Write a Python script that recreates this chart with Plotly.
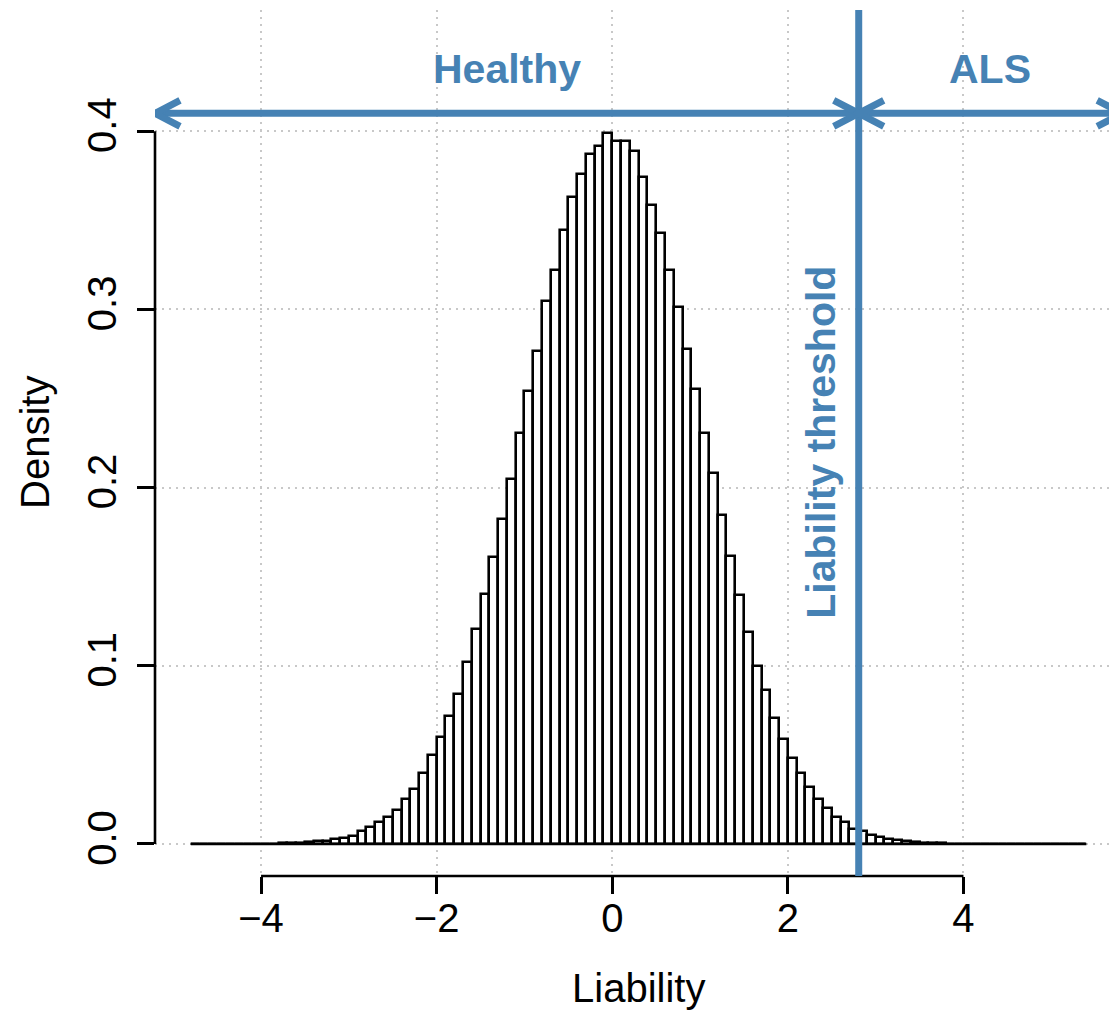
import numpy as np
import plotly.graph_objects as go

# ---- data ----
bin_start = -4.8
bin_width = 0.1
density = [
    0.00001, 0, 0, 0, 0, 0, 0, 0,                       # -4.8 .. -4.1
    0.0001, 0.0002, 0.0003, 0.0005, 0.0007, 0.0010, 0.0014, 0.0019, 0.0026, 0.0035,  # -4.0 .. -3.1
    0.0047, 0.0071, 0.0093, 0.0125, 0.0153, 0.0191, 0.0252, 0.0310, 0.0400, 0.0497,  # -3.0 .. -2.1
    0.0598, 0.0720, 0.0841, 0.1022, 0.1209, 0.1402, 0.1611, 0.1821, 0.2047, 0.2305,  # -2.0 .. -1.1
    0.2541, 0.2768, 0.3046, 0.3221, 0.3445, 0.3630, 0.3761, 0.3872, 0.3916, 0.3991,  # -1.0 .. -0.1
    0.3946, 0.3946, 0.3888, 0.3743, 0.3587, 0.3427, 0.3221, 0.3013, 0.2780, 0.2552,  # 0.0 .. 0.9
    0.2305, 0.2079, 0.1845, 0.1615, 0.1398, 0.1192, 0.0998, 0.0864, 0.0708, 0.0590,  # 1.0 .. 1.9
    0.0484, 0.0400, 0.0317, 0.0254, 0.0200, 0.0153, 0.0121, 0.0086, 0.0073, 0.0050,  # 2.0 .. 2.9
    0.0037, 0.0029, 0.0020, 0.0015, 0.0010, 0.0007, 0.0005, 0.0003, 0.0002, 0.0001,  # 3.0 .. 3.9
    0, 0, 0, 0, 0, 0, 0, 0, 0, 0, 0, 0, 0, 0.00001,     # 4.0 .. 5.3
]
x_ticks = [-4, -2, 0, 2, 4]
x_ticktext = ["\u22124", "\u22122", "0", "2", "4"]
y_ticks = [0.0, 0.1, 0.2, 0.3, 0.4]
y_ticktext = ["0.0", "0.1", "0.2", "0.3", "0.4"]
threshold = 2.807
arrow_y = 0.41
labels = {"healthy": "Healthy", "als": "ALS", "thr": "Liability threshold"}
x_title = "Liability"
y_title = "Density"

# ---- derived ----
n = len(density)
edges = np.round(bin_start + bin_width * np.arange(n + 1), 2)
centers = (edges[:-1] + edges[1:]) / 2
# R-style usr extents (4% padding)
xr = edges[-1] - edges[0]
x_lo, x_hi_r = edges[0] - 0.04 * xr, edges[-1] + 0.04 * xr
y_lo, y_hi = -0.018, 0.468

# page body has an 8px margin; compensate
W, H = 1109, 1003
ml, mr, mt, mb = 147, 0, 2, 135
pxu = 87.8
x_hi = x_lo + (W - ml - mr) / pxu

BLUE = "#4682B4"
FONT = "Liberation Sans, Arial, sans-serif"

fig = go.Figure()
fig.add_trace(go.Bar(
    x=centers, y=density, width=bin_width,
    marker=dict(color="white", line=dict(color="black", width=2.6)),
    hoverinfo="skip", showlegend=False,
))
fig.add_trace(go.Scatter(
    x=[edges[0], edges[-1]], y=[0, 0], mode="lines",
    line=dict(color="black", width=2.6), hoverinfo="skip", showlegend=False,
))

shapes = []
# axis lines (R style: from first to last tick)
shapes.append(dict(type="line", xref="x", yref="paper", x0=x_ticks[0], x1=x_ticks[-1],
                   y0=0, y1=0, line=dict(color="black", width=2.6)))
shapes.append(dict(type="line", xref="paper", yref="y", x0=0, x1=0,
                   y0=y_ticks[0], y1=y_ticks[-1], line=dict(color="black", width=2.6)))
# threshold line
shapes.append(dict(type="line", xref="x", yref="paper", x0=threshold, x1=threshold,
                   y0=0, y1=1, line=dict(color=BLUE, width=7), layer="above"))
# arrow shafts
shapes.append(dict(type="line", xref="x", yref="y", x0=x_lo, x1=threshold,
                   y0=arrow_y, y1=arrow_y, line=dict(color=BLUE, width=7)))
shapes.append(dict(type="line", xref="x", yref="y", x0=threshold, x1=x_hi_r,
                   y0=arrow_y, y1=arrow_y, line=dict(color=BLUE, width=7)))
# chevron heads (pixel-sized, anchored at tips)
def chevron(xtip, direction):
    d = 25 * direction
    return dict(type="path", xref="x", yref="y", xsizemode="pixel", ysizemode="pixel",
                xanchor=xtip, yanchor=arrow_y,
                path=f"M {d},13 L 0,0 L {d},-13",
                line=dict(color=BLUE, width=7))
shapes.append(chevron(x_lo, 1))
shapes.append(chevron(threshold, -1))
shapes.append(chevron(threshold, 1))
shapes.append(chevron(x_hi_r, -1))

annotations = [
    dict(x=(x_lo + threshold) / 2, y=0.435, xref="x", yref="y", text=labels["healthy"],
         showarrow=False, font=dict(family=FONT, size=41, color=BLUE, weight="bold")),
    dict(x=(threshold + x_hi_r) / 2, y=0.435, xref="x", yref="y", text=labels["als"],
         showarrow=False, font=dict(family=FONT, size=41, color=BLUE, weight="bold")),
    dict(x=2.377, y=0.2257, xref="x", yref="y", text=labels["thr"], textangle=-90,
         showarrow=False, font=dict(family=FONT, size=41, color=BLUE, weight="bold")),
    dict(x=(x_lo + x_hi_r) / 2, y=0, xref="x", yref="paper", yshift=-112, yanchor="middle",
         text=x_title, showarrow=False, font=dict(family=FONT, size=40, color="black")),
    dict(x=0, y=0.5, xref="paper", yref="paper", xshift=-120, xanchor="center", textangle=-90,
         text=y_title, showarrow=False, font=dict(family=FONT, size=40, color="black")),
]

fig.update_layout(
    width=W, height=H,
    margin=dict(l=ml, r=mr, t=mt, b=mb, pad=0),
    paper_bgcolor="white", plot_bgcolor="white",
    bargap=0, showlegend=False,
    shapes=shapes, annotations=annotations,
    font=dict(family=FONT, size=40, color="black"),
    xaxis=dict(range=[x_lo, x_hi], tickvals=x_ticks, ticktext=x_ticktext,
               ticks="outside", ticklen=17, tickwidth=2.6, tickcolor="black",
               ticklabelstandoff=-10,
               showline=False, zeroline=False, showgrid=True,
               gridcolor="#c8c8c8", gridwidth=2, griddash="2px,5px",
               tickfont=dict(family=FONT, size=40, color="black")),
    yaxis=dict(range=[y_lo, y_hi], tickvals=y_ticks, ticktext=y_ticktext, tickangle=-90,
               ticks="outside", ticklen=17, tickwidth=2.6, tickcolor="black",
               ticklabelstandoff=5,
               showline=False, zeroline=False, showgrid=True,
               gridcolor="#c8c8c8", gridwidth=2, griddash="2px,5px",
               tickfont=dict(family=FONT, size=40, color="black")),
)

fig.write_html("out.html")
